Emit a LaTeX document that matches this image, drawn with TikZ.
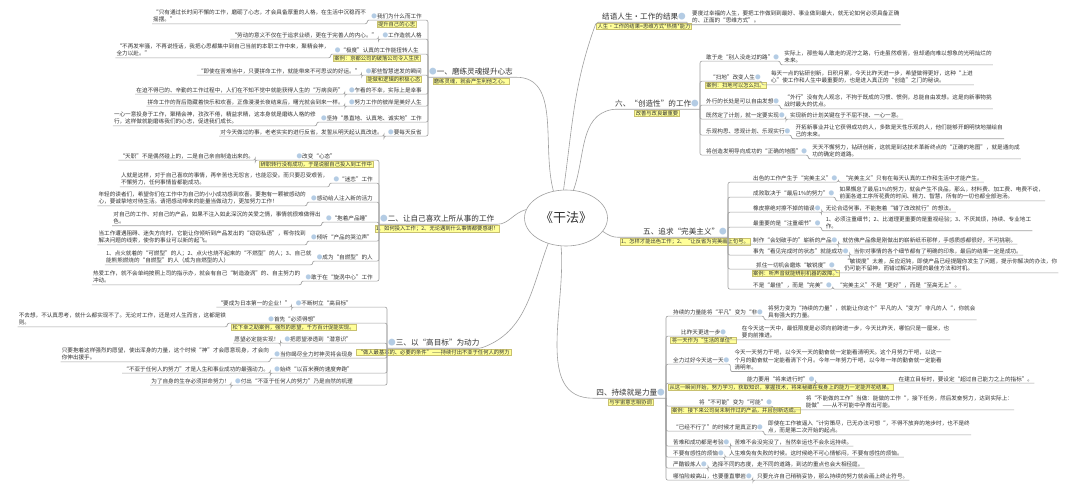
\documentclass[tikz,border=0pt]{standalone}
\usepackage{fontspec}
\setmainfont{Noto Sans CJK SC}
\usetikzlibrary{positioning}
\usetikzlibrary{shapes.geometric}
\definecolor{ink}{HTML}{333333}
\definecolor{wiregray}{HTML}{A0A0A0}
\definecolor{notefill}{HTML}{FFFF99}
\definecolor{noteline}{HTML}{C8C070}
\definecolor{dotblue}{HTML}{B4CCE4}
\newcommand{\leaffont}{\fontsize{5.6}{7.4}\selectfont}
\newcommand{\notefont}{\fontsize{5.3}{6.5}\selectfont}
\newcommand{\branchfont}{\fontsize{7.6}{9}\selectfont}
\newcommand{\dotmark}{{\color{dotblue}●}}
\tikzstyle{wire}=[draw=wiregray, line width=0.6pt, rounded corners=2pt]
\tikzstyle{topic}=[font=\leaffont, text=ink, inner xsep=1pt, inner ysep=1.3pt]
\tikzstyle{leaf}=[font=\leaffont, text=ink, align=left, inner xsep=1pt, inner ysep=1.3pt]
\tikzstyle{note}=[font=\notefont, text=ink, fill=notefill, draw=noteline, line width=0.3pt, inner xsep=1.2pt, inner ysep=0.8pt]
\tikzstyle{branch}=[font=\branchfont, text=ink, inner xsep=1pt, inner ysep=1.5pt]
\tikzstyle{hub}=[ellipse, draw=wiregray, line width=0.6pt, minimum width=82pt, minimum height=56pt, font=\fontsize{13}{15}\selectfont, text=ink]

\begin{document}
\begin{tikzpicture}[x=1pt,y=1pt]
\fill[white] (0,0) rectangle (1080,-488);
\useasboundingbox (0,0) rectangle (1080,-488);

\node[hub] (ctr) at (566,-218) {《干法》};

\node[branch,anchor=west] (B1) at (428,-72) {\dotmark 一、磨练灵魂提升心志};
\node[note,below=0.6pt of B1] (B1n) {磨练灵魂，就会产生利他之心。};
\node[topic,anchor=east] (a1) at (423,-16) {\dotmark 我们为什么而工作};
\node[note,below=0.6pt of a1] (a1n) {提升自己的心志};
\node[leaf,left=3pt of a1] (a1l) {“只有通过长时间不懈的工作，磨砺了心志，才会具备厚重的人格，在生活中沉稳而不\\摇摆。”};
\node[topic,anchor=east] (a2) at (423,-35) {\dotmark 工作造就人格};
\node[leaf,left=3pt of a2] (a2l) {“劳动的意义不仅在于追求业绩，更在于完善人的内心。”};
\node[topic,anchor=east] (a3) at (420,-50) {\dotmark “极度”认真的工作能扭转人生};
\node[note,below=0.6pt of a3] (a3n) {案例：京都公司的破落公司令人生厌};
\node[leaf,left=3pt of a3] (a3l) {“不再发牢骚，不再说怪话，我把心思都集中到自己当前的本职工作中来，聚精会神，\\全力以赴。”};
\node[topic,anchor=east] (a4) at (423,-71) {\dotmark 那些智慧迸发的瞬间};
\node[note,below=0.6pt of a4] (a4n) {能做和逻辑的积极心态};
\node[leaf,left=3pt of a4] (a4l) {“即使在苦难当中，只要拼命工作，就能带来不可思议的好运。”};
\node[topic,anchor=east] (a5) at (423,-90) {\dotmark 乍看的不幸，实际上是幸事};
\node[leaf,left=3pt of a5] (a5l) {在迫不得已的、辛勤的工作过程中，人们在不知不觉中就能获得人生的“万病良药”};
\node[topic,anchor=east] (a6) at (423,-102) {\dotmark 努力工作的彼岸是美好人生};
\node[leaf,left=3pt of a6] (a6l) {拼命工作的背后隐藏着快乐和欢喜，正像漫漫长夜结束后，曙光就会到来一样。};
\node[topic,anchor=east] (a7) at (423,-118) {\dotmark 坚持“愚直地、认真地、诚实地”工作};
\node[leaf,left=3pt of a7] (a7l) {一心一意投身于工作，聚精会神，孜孜不倦，精益求精，这本身就是磨练人格的修\\行，这样做就能磨练我们的心志，促进我们成长。};
\node[topic,anchor=east] (a8) at (423,-132) {\dotmark 要每天反省};
\node[leaf,left=3pt of a8] (a8l) {对今天做过的事，老老实实的进行反省，发誓从明天起认真改进。};
\foreach \t in {a1,a2,a3,a4,a5,a6,a7,a8}
  \draw[wire] (\t l.south west) -- (\t l.south east) |- (\t.south west) -- (\t.south east) -| (B1.south west);
\draw[wire] (B1.south west) -- (B1.south east) to[out=0,in=105] (ctr.115);

\node[branch,anchor=west] (B2) at (379,-219) {\dotmark 二、让自己喜欢上所从事的工作};
\node[note,below=0.6pt of B2] (B2n) {1、如何投入工作；2、无论遇到什么事情都要感谢！};
\node[topic,anchor=east] (b1) at (337,-156) {\dotmark 改变“心态”};
\node[note,below=0.6pt of b1] (b1n) {辞职转行没有成功，于是说服自己投入到工作中};
\node[leaf,anchor=east,xshift=-4pt] (b1l) at (b1n.west |- b1.west) {“天职”不是偶然碰上的，二是自己亲自制造出来的。};
\node[topic,anchor=east] (b2) at (374,-179) {\dotmark “迷恋”工作};
\node[leaf,left=3pt of b2] (b2l) {人就是这样，对于自己喜欢的事情，再辛苦也无怨言，也能忍受。而只要忍受艰苦，\\不懈努力，任何事情皆都能成功。};
\node[topic,anchor=east] (b3) at (374,-198) {\dotmark 感动给人注入新的活力};
\node[leaf,left=3pt of b3] (b3l) {年轻的读者们，希望你们在工作中为自己的小小成功感到欢喜。要抱有一颗被感动的\\心，要诚挚地对待生活。请把感动带来的能量当做动力，更加努力工作！};
\node[topic,anchor=east] (b4) at (372,-218) {\dotmark “抱着产品睡”};
\node[leaf,left=3pt of b4] (b4l) {对自己的工作、对自己的产品，如果不注入如此深沉的关爱之情，事情就很难做得出\\色。};
\node[topic,anchor=east] (b5) at (374,-237) {\dotmark 倾听“产品的哭泣声”};
\node[leaf,left=3pt of b5] (b5l) {当工作遭遇阻碍、迷失方向时，它能让你倾听到产品发出的“窃窃私语”，帮你找到\\解决问题的线索，使你的事业可以新的起飞。};
\node[topic,anchor=east] (b6) at (374,-257) {\dotmark 成为“自燃型”的人};
\node[leaf,left=3pt of b6] (b6l) {1、点火就着的“可燃型”的人；2、点火也烧不起来的“不燃型”的人；3、自己就\\能熊熊燃烧的“自燃型”的人（成为自燃型的人）};
\node[topic,anchor=east] (b7) at (374,-277) {\dotmark 敢于在“旋涡中心”工作};
\node[leaf,left=3pt of b7] (b7l) {热爱工作，就不会单纯按照上司的指示办，就会有自己“制造漩涡”的、自主努力的\\冲动。};
\foreach \t in {b1,b2,b3,b4,b5,b6,b7}
  \draw[wire] (\t l.south west) -- (\t l.south east) |- (\t.south west) -- (\t.south east) -| (B2.south west);
\draw[wire] (B2.south west) -- (B2.south east) to[out=0,in=195] (ctr.168);

\node[branch,anchor=west] (B3) at (387,-343) {\dotmark 三、以“高目标”为动力};
\node[note,below=0.6pt of B3] (B3n) {“做人最基本的、必要的条件”——持续付出不亚于任何人的努力};
\node[topic,anchor=east] (c1) at (353,-303) {\dotmark 不断树立“高目标”};
\node[leaf,left=3pt of c1] (c1l) {“要成为日本第一的企业！”};
\node[topic,anchor=east] (c2) at (320,-319) {\dotmark 首先“必须得想”};
\node[note,below=0.6pt of c2] (c2n) {松下幸之助案例，强烈的愿望，千方百计促能实现。};
\node[leaf,anchor=east,xshift=-4pt] (c2l) at (c2n.west |- c2.west) {不去想，不认真思考，就什么都实现不了。无论对工作，还是对人生而言，这都是铁\\则。};
\node[topic,anchor=east] (c3) at (353,-339) {\dotmark 把愿望渗透到“潜意识”};
\node[leaf,left=3pt of c3] (c3l) {愿望必定能实现！};
\node[topic,anchor=east] (c4) at (354,-354) {\dotmark 当你竭尽全力时神灵将会现身};
\node[leaf,left=3pt of c4] (c4l) {只要抱着这样强烈的愿望，使出浑身的力量，这个时候“神”才会愿意现身，才会向\\你伸出援手。};
\node[topic,anchor=east] (c5) at (354,-369) {\dotmark 始终“以百米赛的速度奔跑”};
\node[leaf,left=3pt of c5] (c5l) {“不亚于任何人的努力”才是人生和事业成功的最强动力。};
\node[topic,anchor=east] (c6) at (354,-381) {\dotmark 付出“不亚于任何人的努力”乃是自然的机理};
\node[leaf,left=3pt of c6] (c6l) {为了自身的生存必须拼命努力！};
\foreach \t in {c1,c2,c3,c4,c5,c6}
  \draw[wire] (\t l.south west) -- (\t l.south east) |- (\t.south west) -- (\t.south east) -| (B3.south west);
\draw[wire] (B3.south west) -- (B3.south east) to[out=20,in=-110] (ctr.-125);

\node[branch,anchor=east] (R1) at (687,-17) {结语人生·工作的结果\dotmark};
\node[note,below=0.6pt of R1] (R1n) {人生·工作的结果=思维方式*热情*能力};
\node[leaf,right=4pt of R1] (r1l) {要度过幸福的人生，要把工作做到到最好、事业做到最大，就无论如何必须具备正确\\的、正面的“思维方式”。};
\draw[wire] (R1.south east) |- (r1l.south west) -- (r1l.south east);
\draw[wire] (R1.south east) -- (R1.south east -| R1n.west) to[out=250,in=82] (ctr.95);

\node[branch,anchor=east] (R2) at (700,-104) {六、“创造性”的工作\dotmark};
\node[note,below=0.6pt of R2] (R2n) {改善与改良最重要};
\node[topic,anchor=west] (f1) at (705,-57) {敢于走“别人没走过的路”\dotmark};
\node[leaf,right=3pt of f1] (f1l) {实际上，那些每人敢走的泥泞之路，行走虽然艰苦，但却通向难以想象的光明灿烂的\\未来。};
\node[topic,anchor=west] (f2) at (709,-77) {“扫地”改变人生\dotmark};
\node[note,below=0.6pt of f2] (f2n) {案例：扫地可以怎么扫。};
\node[leaf,anchor=west,xshift=4pt] (f2l) at (f2n.east |- f2.east) {每天一点的钻研创新，日积月累，今天比昨天进一步，希望做得更好，这种“上进\\心”使工作和人生中最重要的，也是进入真正的“创造”之门的秘诀。};
\node[topic,anchor=west] (f3) at (705,-101) {外行的长处是可以自由发想\dotmark};
\node[leaf,right=3pt of f3] (f3l) {“外行”没有先人观念，不拘于既成的习惯、惯例，总能自由发想。这是向新事物挑\\战时最大的优点。};
\node[topic,anchor=west] (f4) at (705,-115) {既然定了计划，就一定要实现\dotmark};
\node[leaf,right=3pt of f4] (f4l) {实现新的计划关键在于不屈不挠、一心一意。};
\node[topic,anchor=west] (f5) at (705,-131) {乐观构思、悲观计划、乐观实行\dotmark};
\node[leaf,right=3pt of f5] (f5l) {开拓新事业并让它获得成功的人，多数是天性乐观的人，他们能够开朗明快地描绘自\\己的未来。};
\node[topic,anchor=west] (f6) at (705,-151) {将创造发明导向成功的“正确的地图”\dotmark};
\node[leaf,right=3pt of f6] (f6l) {天天不懈努力，钻研创新，这就是到达技术革新终点的“正确的地图”，就是通向成\\功的确定的道路。};
\foreach \t in {f1,f2,f3,f4,f5,f6}
  \draw[wire] (R2.south east) |- (\t.south west) -- (\t.south east) |- (\t l.south west) -- (\t l.south east);
\draw[wire] (R2.south east) -- (R2.south west) to[out=190,in=70] (ctr.75);

\node[branch,anchor=east] (R3) at (728,-232) {五、追求“完美主义”\dotmark};
\node[note,below=0.6pt of R3] (R3n) {1、怎样才能出色工作；2、“让反省为完美画上句号。};
\node[topic,anchor=west] (g1) at (752,-178) {出色的工作产生于“完美主义”\dotmark};
\node[leaf,right=3pt of g1] (g1l) {“完美主义”只有在每天认真的工作和生活中才能产生。};
\node[topic,anchor=west] (g2) at (752,-193) {成败取决于“最后1\%的努力”\dotmark};
\node[leaf,right=3pt of g2] (g2l) {如果懈怠了最后1\%的努力，就会产生不良品，那么，材料费、加工费、电费不说，\\前面各道工序所花费的时间、精力、智慧，所有的一切也都全部泡汤。};
\node[topic,anchor=west] (g3) at (752,-208) {橡皮擦绝对擦不掉的错误\dotmark};
\node[leaf,right=3pt of g3] (g3l) {无论合适何事，不能抱着“错了改改就行”的想法。};
\node[topic,anchor=west] (g4) at (752,-223) {最重要的是“注重细节”\dotmark};
\node[leaf,right=3pt of g4] (g4l) {1、必须注重细节；2、比道理更重要的是重视经验；3、不厌其烦，持续、专业地工\\作。};
\node[topic,anchor=west] (g5) at (752,-240) {制作“会划破手的”崭新的产品\dotmark};
\node[leaf,right=3pt of g5] (g5l) {就仿佛产品像是刚做出的崭新纸币那样，手感质感都很好，不可挑剔。};
\node[topic,anchor=west] (g6) at (752,-251) {事先“看见完成时的状态”就能成功\dotmark};
\node[leaf,right=3pt of g6] (g6l) {当你对事情的各个细节都有了明确的印象，最后的结果一定是成功。};
\node[topic,anchor=west] (g7) at (755,-265) {抓住一切机会磨炼“敏锐度”\dotmark};
\node[note,below=0.6pt of g7] (g7n) {案例：听声音就能辨别机器的故障。};
\node[leaf,anchor=west,xshift=4pt] (g7l) at (g7n.east |- g7.east) {“敏锐度”太差，反应迟钝，即使产品已经提醒你发生了问题，提示你解决的办法，你\\仍可能不留神，而错过解决问题的最佳方法和时机。};
\node[topic,anchor=west] (g8) at (752,-285) {不是“最佳”，而是“完美”\dotmark};
\node[leaf,right=3pt of g8] (g8l) {“完美主义”不是“更好”，而是“至高无上”。};
\foreach \t in {g1,g2,g3,g4,g5,g6,g7,g8}
  \draw[wire] (R3.south east) |- (\t.south west) -- (\t.south east) |- (\t l.south west) -- (\t l.south east);
\draw[wire] (R3.south east) -- (R3.south east -| R3n.west) to[out=180,in=-35] (ctr.-20);

\node[branch,anchor=east] (R4) at (666,-393) {四、持续就是力量\dotmark};
\node[note,below=0.6pt of R4] (R4n) {与宇宙意志相协调};
\node[topic,anchor=west] (h1) at (672,-312) {持续的力量能将“平凡”变为“非\dotmark};
\node[leaf,right=3pt of h1] (h1l) {将努力变为“持续的力量”，就能让你这个”平凡的人“变为”非凡的人“，你就会\\具有强大的力量。};
\node[topic,anchor=west] (h2) at (680,-332) {比昨天更进一步\dotmark};
\node[note,below=0.6pt of h2] (h2n) {将一天作为“生活的单位”};
\node[leaf,anchor=west,xshift=4pt] (h2l) at (h2n.east |- h2.east) {在今天这一天中，最低限度是必须向前跨进一步，今天比昨天，哪怕只是一厘米，也\\要向前推进。};
\node[topic,anchor=west] (h3) at (672,-360) {全力过好今天这一天\dotmark};
\node[leaf,right=3pt of h3] (h3l) {今天一天努力干吧，以今天一天的勤奋就一定能看清明天。这个月努力干吧，以这一\\个月的勤奋就一定能看清下个月。今年一年努力干吧，以今年一年的勤奋就一定能看\\清明年。};
\node[topic,anchor=west] (h4) at (746,-379) {能力要用“将来进行时”\dotmark};
\node[note,below=0.6pt of h4] (h4n) {从这一瞬间开始，努力学习，获取知识，掌握技术，将来秘藏在我身上的能力一定能开花结果。};
\node[leaf,anchor=west,xshift=4pt] (h4l) at (h4n.east |- h4.east) {在建立目标时，要设定“超过自己能力之上的指标”。};
\node[topic,anchor=west] (h5) at (698,-402) {将“不可能”变为“可能”\dotmark};
\node[note,below=0.6pt of h5] (h5n) {案例：接下来公司尚未制作过的产品，并且创新达成。};
\node[leaf,anchor=west,xshift=4pt] (h5l) at (h5n.east |- h5.east) {将“不能做的工作”当做：能做的工作“，接下任务，然后发奋努力，达到实际上：\\能做”——从不可能中孕育出可能。};
\node[topic,anchor=west] (h6) at (672,-427) {“已经不行了”的时候才是真正的\dotmark};
\node[leaf,right=3pt of h6] (h6l) {即使在工作被逼入“计穷策尽，已无办法可想“，不得不放弃的地步时，也不是终\\点，而是第二次开始的起点。};
\node[topic,anchor=west] (h7) at (672,-442) {苦难和成功都是考验\dotmark};
\node[leaf,right=3pt of h7] (h7l) {苦难不会没完没了，当然幸运也不会永远持续。};
\node[topic,anchor=west] (h8) at (672,-453) {不要有感性的烦恼\dotmark};
\node[leaf,right=3pt of h8] (h8l) {人生难免有失败的时候。这时候绝不可心情郁闷，不要有感性的烦恼。};
\node[topic,anchor=west] (h9) at (672,-464) {严酷锻炼人\dotmark};
\node[leaf,right=3pt of h9] (h9l) {选择不同的态度，走不同的道路，到达的重点也会大相径庭。};
\node[topic,anchor=west] (h10) at (672,-476) {哪怕险峻高山，也要垂直攀岩\dotmark};
\node[leaf,right=3pt of h10] (h10l) {只要允许自己稍稍妥协，那么持续的努力就会画上终止符号。};
\foreach \t in {h1,h2,h3,h4,h5,h6,h7,h8,h9,h10}
  \draw[wire] (R4.south east) |- (\t.south west) -- (\t.south east) |- (\t l.south west) -- (\t l.south east);
\draw[wire] (R4.south east) -- (R4.south west) to[out=180,in=-85] (ctr.-100);
\end{tikzpicture}
\end{document}
